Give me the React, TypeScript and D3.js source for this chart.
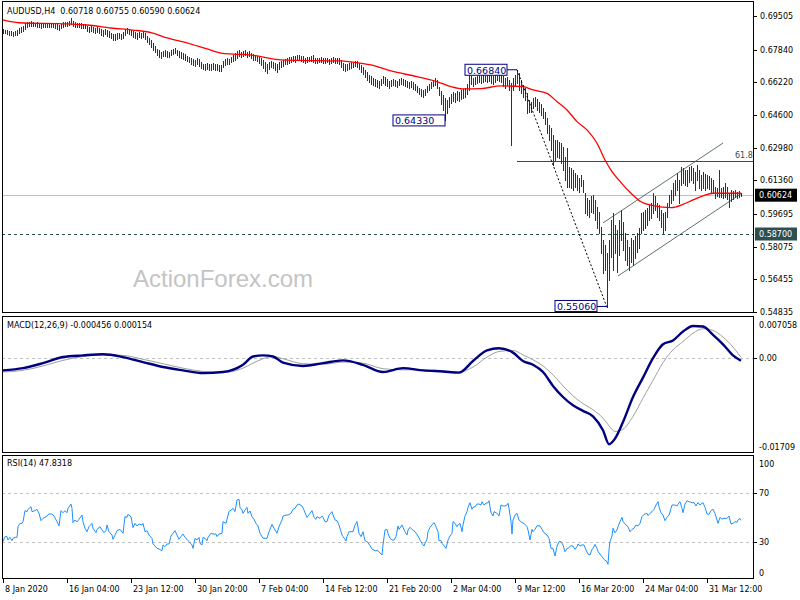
import React from 'react';
import * as d3 from 'd3';

const highs = [
0.6884,0.6881,0.6879,0.6876,0.6874,0.6871,0.6876,0.6881,0.6891,0.6896,
0.6901,0.6916,0.6921,0.6923,0.6926,0.6921,0.6918,0.6921,0.6916,0.6911,
0.6913,0.6916,0.6913,0.6911,0.6916,0.6916,0.6913,0.6911,0.6906,0.6911,
0.6921,0.6921,0.6923,0.6926,0.6941,0.6926,0.6921,0.6916,0.6918,0.6916,
0.6911,0.6911,0.6901,0.6896,0.6899,0.6896,0.6891,0.6896,0.6891,0.6886,
0.6881,0.6886,0.6881,0.6876,0.6865,0.6861,0.6861,0.6865,0.6865,0.6861,
0.6871,0.6886,0.6889,0.6886,0.6881,0.6876,0.6871,0.6865,0.6871,0.6865,
0.6871,0.6865,0.6852,0.6842,0.6832,0.6817,0.6802,0.6787,0.6782,0.6772,
0.6777,0.6782,0.6777,0.6772,0.6782,0.6787,0.6792,0.6782,0.6777,0.6772,
0.6767,0.6762,0.6752,0.6747,0.6742,0.6737,0.6733,0.6742,0.6737,0.6723,
0.6713,0.6713,0.6718,0.6713,0.6713,0.6718,0.6713,0.6713,0.6708,0.6708,
0.6728,0.6737,0.6742,0.6737,0.6747,0.6757,0.6767,0.6777,0.6782,0.6772,
0.6777,0.6782,0.6772,0.6777,0.6767,0.6762,0.6757,0.6752,0.6747,0.6742,
0.6733,0.6723,0.6713,0.6723,0.6728,0.6723,0.6718,0.6713,0.6723,0.6728,
0.6733,0.6737,0.6742,0.6747,0.6747,0.6752,0.6752,0.6755,0.6757,0.6752,
0.6750,0.6742,0.6747,0.6747,0.6752,0.6755,0.6742,0.6742,0.6742,0.6745,
0.6742,0.6740,0.6742,0.6737,0.6742,0.6745,0.6742,0.6742,0.6742,0.6733,
0.6718,0.6713,0.6713,0.6718,0.6723,0.6723,0.6728,0.6725,0.6718,0.6708,
0.6698,0.6683,0.6673,0.6658,0.6653,0.6643,0.6638,0.6633,0.6628,0.6638,
0.6653,0.6648,0.6638,0.6628,0.6633,0.6638,0.6633,0.6628,0.6638,0.6643,
0.6638,0.6633,0.6628,0.6623,0.6628,0.6623,0.6614,0.6604,0.6594,0.6589,
0.6584,0.6589,0.6604,0.6614,0.6623,0.6633,0.6643,0.6633,0.6599,0.6579,
0.6559,0.6544,0.6534,0.6549,0.6564,0.6574,0.6569,0.6579,0.6574,0.6584,
0.6589,0.6594,0.6614,0.6658,0.6653,0.6643,0.6648,0.6653,0.6658,0.6653,
0.6658,0.6663,0.6658,0.6663,0.6658,0.6653,0.6663,0.6668,0.6663,0.6673,
0.6653,0.6643,0.6648,0.6633,0.6618,0.6643,0.6658,0.6684,0.6668,0.6633,
0.6609,0.6594,0.6569,0.6534,0.6524,0.6544,0.6549,0.6539,0.6524,0.6515,
0.6495,0.6475,0.6445,0.6410,0.6396,0.6361,0.6336,0.6336,0.6326,0.6321,
0.6302,0.6252,0.6297,0.6202,0.6197,0.6187,0.6173,0.6163,0.6148,0.6163,
0.6138,0.6073,0.6049,0.6039,0.6059,0.6064,0.6039,0.6004,0.5979,0.5905,
0.5841,0.5816,0.5776,0.5841,0.5940,0.5974,0.5915,0.5890,0.5940,0.5989,
0.5930,0.5875,0.5841,0.5806,0.5851,0.5841,0.5861,0.5875,0.5900,0.5974,
0.5979,0.5989,0.5999,0.6014,0.6024,0.6073,0.6059,0.6024,0.6014,0.5989,
0.5974,0.5979,0.6024,0.6064,0.6088,0.6123,0.6138,0.6173,0.6138,0.6202,
0.6197,0.6187,0.6187,0.6202,0.6207,0.6197,0.6177,0.6212,0.6187,0.6163,
0.6177,0.6168,0.6163,0.6158,0.6148,0.6138,0.6103,0.6098,0.6187,0.6098,
0.6103,0.6123,0.6103,0.6073,0.6088,0.6083,0.6088,0.6078,0.6083,0.60755];

const lows = [
0.6865,0.6864,0.6861,0.6856,0.6854,0.6852,0.6856,0.6856,0.6865,0.6871,
0.6876,0.6886,0.6896,0.6901,0.6903,0.6899,0.6901,0.6896,0.6894,0.6891,
0.6896,0.6896,0.6894,0.6894,0.6896,0.6894,0.6891,0.6886,0.6881,0.6891,
0.6896,0.6901,0.6899,0.6906,0.6911,0.6901,0.6896,0.6896,0.6896,0.6891,
0.6891,0.6889,0.6876,0.6871,0.6876,0.6871,0.6865,0.6871,0.6865,0.6856,
0.6852,0.6861,0.6852,0.6847,0.6842,0.6834,0.6832,0.6837,0.6842,0.6837,
0.6842,0.6856,0.6865,0.6861,0.6856,0.6847,0.6842,0.6837,0.6844,0.6842,
0.6847,0.6837,0.6822,0.6812,0.6797,0.6782,0.6772,0.6757,0.6747,0.6742,
0.6752,0.6752,0.6747,0.6747,0.6757,0.6762,0.6767,0.6757,0.6747,0.6742,
0.6737,0.6733,0.6728,0.6723,0.6713,0.6708,0.6703,0.6713,0.6703,0.6693,
0.6688,0.6683,0.6688,0.6685,0.6683,0.6688,0.6685,0.6683,0.6680,0.6678,
0.6698,0.6708,0.6713,0.6713,0.6723,0.6728,0.6733,0.6742,0.6752,0.6747,
0.6752,0.6757,0.6747,0.6752,0.6742,0.6733,0.6733,0.6728,0.6718,0.6708,
0.6693,0.6678,0.6668,0.6688,0.6698,0.6693,0.6683,0.6673,0.6688,0.6698,
0.6703,0.6713,0.6713,0.6718,0.6723,0.6728,0.6723,0.6733,0.6733,0.6728,
0.6723,0.6718,0.6723,0.6725,0.6728,0.6723,0.6718,0.6720,0.6723,0.6723,
0.6718,0.6718,0.6723,0.6715,0.6718,0.6723,0.6718,0.6720,0.6713,0.6698,
0.6683,0.6678,0.6683,0.6688,0.6693,0.6698,0.6703,0.6698,0.6688,0.6673,
0.6663,0.6648,0.6633,0.6623,0.6614,0.6609,0.6604,0.6599,0.6594,0.6609,
0.6618,0.6609,0.6604,0.6594,0.6604,0.6609,0.6604,0.6599,0.6609,0.6614,
0.6609,0.6604,0.6599,0.6594,0.6599,0.6589,0.6584,0.6574,0.6564,0.6554,
0.6549,0.6559,0.6574,0.6584,0.6594,0.6604,0.6609,0.6594,0.6559,0.6515,
0.6485,0.6433,0.6470,0.6500,0.6519,0.6529,0.6524,0.6534,0.6529,0.6539,
0.6544,0.6549,0.6564,0.6584,0.6614,0.6604,0.6614,0.6618,0.6623,0.6618,
0.6623,0.6628,0.6623,0.6628,0.6618,0.6614,0.6623,0.6633,0.6628,0.6623,
0.6604,0.6594,0.6609,0.6584,0.6311,0.6584,0.6609,0.6618,0.6584,0.6569,
0.6549,0.6534,0.6470,0.6475,0.6475,0.6495,0.6505,0.6485,0.6475,0.6460,
0.6445,0.6415,0.6371,0.6336,0.6287,0.6212,0.6237,0.6252,0.6247,0.6222,
0.6187,0.6138,0.6103,0.6103,0.6098,0.6088,0.6103,0.6088,0.6078,0.6108,
0.6078,0.5974,0.5964,0.5954,0.5979,0.5974,0.5940,0.5900,0.5875,0.5776,
0.5677,0.5692,0.5506,0.5642,0.5756,0.5692,0.5776,0.5682,0.5766,0.5841,
0.5791,0.5741,0.5717,0.5692,0.5732,0.5717,0.5751,0.5781,0.5801,0.5875,
0.5890,0.5900,0.5915,0.5940,0.5950,0.5974,0.5989,0.5954,0.5940,0.5905,
0.5875,0.5890,0.5954,0.6004,0.6024,0.6039,0.6064,0.6088,0.6024,0.6113,
0.6123,0.6113,0.6108,0.6128,0.6138,0.6123,0.6088,0.6138,0.6098,0.6088,
0.6098,0.6088,0.6098,0.6093,0.6078,0.6073,0.6049,0.6059,0.6054,0.6054,
0.6049,0.6054,0.6044,0.6004,0.6034,0.6044,0.6054,0.6049,0.6054,0.60590];

// moving average (bar index, price)
const maPts: [number, number][] = [
[0,0.6931],[8,0.6917],[32,0.6911],[42,0.6906],[54,0.6891],[65,0.6881],[74,0.6868],[82,0.6842],
[92,0.6817],[102,0.6787],[109,0.6767],[115,0.6762],[124,0.6757],[139,0.6733],[157,0.6729],
[169,0.6728],[174,0.6723],[184,0.6708],[194,0.6678],[207,0.6650],[217,0.6625],[224,0.6600],
[230,0.6589],[239,0.6591],[249,0.6604],[260,0.6600],[265,0.6584],[272,0.6567],[277,0.6526],
[282,0.6485],[287,0.6427],[292,0.6386],[297,0.6320],[301,0.6237],[304,0.6187],[309,0.6125],
[314,0.6072],[319,0.6030],[325,0.6011],[334,0.6001],[340,0.6017],[345,0.6039],[350,0.6059],
[355,0.6072],[369,0.6072]];

const macdPts: [number, number][] = [
[0,-0.0022],[10,-0.0018],[20,-0.0009],[30,0.0002],[40,0.0005],[50,0.0007],[60,0.0002],[70,-0.0007],
[80,-0.0016],[90,-0.0022],[100,-0.0027],[110,-0.0025],[120,-0.0012],[125,0.0003],[130,0.0005],
[135,0.0003],[140,-0.0008],[150,-0.0014],[160,-0.0009],[170,-0.0004],[180,-0.0012],[190,-0.0025],
[200,-0.0018],[210,-0.0022],[220,-0.0024],[228,-0.0026],[235,-0.0005],[242,0.0014],[248,0.0018],
[255,0.0010],[260,-0.0005],[265,-0.0012],[270,-0.0025],[275,-0.0050],[280,-0.0070],[285,-0.0085],
[290,-0.0095],[295,-0.0105],[300,-0.0130],[303,-0.0155],[306,-0.0145],[310,-0.0115],[315,-0.0070],
[320,-0.0035],[325,0.0000],[330,0.0025],[335,0.0032],[340,0.0048],[345,0.0058],[350,0.0057],
[355,0.0042],[360,0.0025],[365,0.0005],[369,-0.000456]];

const signalPts: [number, number][] = [
[0,-0.0025],[10,-0.0022],[20,-0.0014],[30,-0.0004],[40,0.0003],[50,0.0006],[60,0.0005],[70,-0.0002],
[80,-0.0010],[90,-0.0018],[100,-0.0024],[110,-0.0026],[120,-0.0018],[125,-0.0009],[130,-0.0001],
[135,0.0003],[140,-0.0001],[150,-0.0010],[160,-0.0011],[170,-0.0007],[180,-0.0009],[190,-0.0019],
[200,-0.0021],[210,-0.0021],[220,-0.0023],[228,-0.0025],[235,-0.0016],[242,0.0002],[248,0.0012],
[255,0.0014],[260,0.0006],[265,-0.0003],[270,-0.0014],[275,-0.0030],[280,-0.0050],[285,-0.0068],
[290,-0.0082],[295,-0.0093],[300,-0.0108],[303,-0.0122],[306,-0.0132],[310,-0.0128],[315,-0.0105],
[320,-0.0072],[325,-0.0040],[330,-0.0008],[335,0.0015],[340,0.0030],[345,0.0045],[350,0.0053],
[355,0.0050],[360,0.0038],[365,0.0020],[369,0.000154]];

const rsiPts: [number, number][] = [
[0,30.5],[1,34.6],[2,34.6],[2.5,31.8],[3.5,34.0],[4.5,31.3],[5,33.2],[6,34.0],[7,34.0],[7.5,42.7],[8.5,45.4],[9.5,45.4],[10,46.8],[11,55.8],[12,55.0],[12.5,56.9],[14,59.0],[14.5,55.0],[16,55.8],[17,56.9],[18,53.6],[19,47.6],[20,49.5],[22,51.4],[23,53.1],[24.5,53.1],[25.5,51.4],[27,46.8],[28,43.3],[29,55.8],[30,54.1],[31,55.8],[32,54.1],[32.5,57.7],[34,61.2],[34.5,57.7],[35,46.0],[36,48.2],[37,46.6],[38,48.7],[39.5,52.2],[40,46.8],[41,41.4],[42,38.6],[43,42.7],[44.5,45.4],[45,41.4],[46.5,37.8],[47,40.5],[48.5,42.7],[49.5,40.0],[50.5,37.8],[51.5,39.5],[52,44.1],[53,38.6],[54.5,35.9],[55,32.4],[56,35.9],[57,39.5],[58.5,40.5],[60,37.3],[61,50.9],[62,50.3],[62.5,52.8],[64,50.9],[65,41.9],[66,45.4],[67,43.3],[68,44.9],[69.5,44.1],[70,45.4],[71,38.6],[72,39.5],[73,35.9],[74.5,33.2],[75,28.6],[76,26.9],[77,25.0],[78,24.5],[79.5,23.1],[80,27.8],[81,26.4],[82,28.6],[83,28.6],[84,35.1],[85,37.3],[86,39.5],[87,35.9],[88,32.4],[89,34.6],[90,36.7],[91,34.0],[92,32.4],[93,30.5],[94.5,27.8],[95,25.0],[96,33.2],[97,31.8],[98,34.0],[98.5,29.1],[99.5,27.8],[100,34.0],[101,33.2],[102,31.3],[102.5,34.0],[104,37.3],[105,36.7],[106.5,36.7],[107,34.6],[108,36.7],[109.5,37.3],[110,46.8],[111.5,45.4],[112,48.7],[113,55.0],[114.5,56.9],[115,57.7],[116,55.0],[117,64.5],[118,65.0],[118.5,58.5],[119.5,56.3],[120,53.6],[121,56.3],[122,58.5],[122.5,53.6],[123.5,55.5],[124.5,50.9],[125.5,48.7],[126.5,45.4],[127.5,43.3],[128.5,37.3],[130,33.2],[131,33.2],[132,33.2],[133,38.6],[134.5,44.6],[135.5,41.4],[136.5,38.6],[137,37.3],[138,42.7],[139.5,48.2],[140,51.4],[141.5,52.2],[142.5,52.2],[144,53.6],[145,56.9],[146,57.7],[147,60.4],[148,61.2],[149.5,59.6],[150.5,56.3],[151.5,52.2],[152,50.3],[153.5,53.6],[154.5,55.8],[155.5,50.3],[156.5,48.7],[157,50.9],[158.5,49.5],[159.5,51.4],[160,50.3],[161,46.8],[162,46.8],[163,52.2],[164.5,55.0],[165,52.2],[166,48.2],[167,47.6],[168,44.1],[169.5,35.9],[170,34.6],[171.5,31.0],[172,34.6],[173,38.6],[174.5,38.6],[175,38.6],[176,44.1],[177,46.8],[178,37.3],[179,34.6],[180,38.6],[180.5,34.6],[181,31.3],[182,30.5],[182.5,29.7],[183.5,27.2],[184.5,24.5],[186,23.1],[187.5,23.1],[189.5,19.6],[190,27.8],[191,40.0],[192,40.5],[192.5,37.3],[193.5,33.2],[194.5,31.8],[195.5,31.8],[196.5,34.6],[197.5,43.3],[198,40.5],[199.5,44.1],[200,42.2],[201,38.6],[202,35.9],[202.5,40.0],[203.5,42.2],[204.5,40.5],[206,38.6],[207.5,35.1],[208.5,31.8],[209.5,29.1],[210.5,26.9],[211,29.1],[212,32.4],[212.5,38.6],[213.5,42.2],[214.5,44.1],[215.5,46.0],[216.5,42.7],[217.5,38.6],[218,31.3],[219,31.3],[219.5,29.1],[220.5,27.2],[221.5,25.0],[222.5,31.8],[223.5,35.1],[224.5,37.3],[225,46.8],[226,45.4],[227,42.7],[227.5,44.1],[228.5,45.4],[229.5,38.6],[230,44.1],[231,51.4],[232,55.0],[232.5,58.5],[233.5,62.3],[234.5,56.9],[235,58.5],[236,59.0],[237,61.2],[238,61.2],[239,60.4],[239.5,63.1],[240.5,60.4],[241.5,61.8],[242.5,62.3],[243,63.9],[244,54.1],[245,51.4],[245.5,55.0],[246.5,54.1],[247.5,52.8],[248,51.4],[249,60.4],[250,59.6],[251,59.6],[252,60.4],[252.5,61.8],[253,57.7],[254,46.8],[254.5,36.7],[255,48.2],[256,52.2],[257,53.6],[258,48.2],[259.5,46.0],[260.5,45.4],[262,42.7],[262.5,40.0],[263.5,31.8],[264.5,40.5],[265,38.6],[266,40.5],[267,43.5],[268.5,43.3],[269.5,40.5],[270.5,37.8],[272,35.9],[273,33.2],[274,25.0],[275,25.0],[276,18.8],[277,26.9],[278,30.5],[279,30.5],[280,27.8],[281,22.3],[282,25.0],[282.5,25.0],[284,27.2],[285,26.9],[286,24.2],[287,26.4],[287.5,28.6],[288.5,26.9],[289.5,27.8],[290.5,27.8],[291.5,23.7],[292.5,20.4],[293.5,19.6],[294.5,24.2],[295,25.0],[296,28.3],[297,25.0],[297.5,22.3],[298.5,20.4],[299.5,18.2],[300.5,16.1],[302,14.1],[302.5,12.0],[303,23.7],[303.5,30.5],[304.5,35.1],[305,41.4],[306,37.8],[307,40.0],[307.5,42.7],[308.5,46.8],[309.5,50.3],[310,46.8],[311.5,44.1],[312.5,42.7],[313.5,38.6],[314.5,40.5],[315.5,41.4],[316.5,44.1],[317.5,43.3],[318.5,45.4],[319.5,50.9],[320.5,52.8],[322,53.6],[322.5,51.7],[323.5,53.6],[324.5,55.0],[325.5,56.9],[326.5,60.4],[327.5,63.1],[328,59.0],[329,54.1],[330,52.2],[331,47.6],[332,50.3],[333,52.2],[334,57.7],[334.5,60.4],[336,60.4],[337,59.6],[338,62.3],[338.5,63.1],[339.5,57.7],[340,54.1],[341,61.2],[342,63.9],[343,63.1],[344.5,62.3],[345.5,62.3],[346.5,59.6],[347.5,62.3],[348.5,60.4],[349.5,61.8],[350,62.3],[351,58.5],[352,53.1],[353,52.8],[354,55.8],[355,56.9],[356,53.6],[357,48.2],[357.5,45.4],[358.5,50.3],[359.5,48.7],[360,49.5],[362,49.5],[363,51.4],[364,44.9],[365,45.4],[366,46.8],[367,46.3],[367.5,48.2],[368.5,49.5],[369,47.8]];

const priceTicks = [0.69505,0.67840,0.66220,0.64600,0.62980,0.61360,0.59695,0.58075,0.56455,0.54835];
const dateLabels = ['8 Jan 2020','16 Jan 04:00','23 Jan 12:00','30 Jan 20:00','7 Feb 04:00','14 Feb 12:00','21 Feb 20:00','2 Mar 04:00','9 Mar 12:00','16 Mar 20:00','24 Mar 04:00','31 Mar 12:00'];
const dateBars = [0,32,64,96,128,160,192,224,256,288,320,352];

const lastPrice = 0.60624;
const supportLevel = 0.587;
const fibLevel = 0.6234;
const swingHigh: [number, number] = [257, 0.6684];
const swingLow: [number, number] = [302, 0.5506];
const prevLow: [number, number] = [221, 0.6433];
const channelUpper: [number, number][] = [[300, 0.5925], [360, 0.6321]];
const channelLower: [number, number][] = [[307.5, 0.5662], [369.5, 0.6073]];

const FONT = "'DejaVu Sans', Tahoma, sans-serif";

export default function App() {
  const L = 2, R = 754;
  const x = d3.scaleLinear().domain([0, 369]).range([3, 741]);
  const yP = d3.scaleLinear().domain([0.54835, 0.69505]).range([312, 16]);
  const yM = d3.scaleLinear().domain([-0.01709, 0.007058]).range([453, 319]);
  const yR = d3.scaleLinear().domain([0, 100]).range([579, 456.5]);

  const maLine = d3.line<[number, number]>().x(d => x(d[0])).y(d => yP(d[1])).curve(d3.curveMonotoneX);
  const mLine = d3.line<[number, number]>().x(d => x(d[0])).y(d => yM(d[1])).curve(d3.curveMonotoneX);
  const rLine = d3.line<[number, number]>().x(d => x(d[0])).y(d => yR(d[1]));
  const pLine = d3.line<[number, number]>().x(d => x(d[0])).y(d => yP(d[1]));

  const label = (txt: string, right: number, cy: number, w: number) => (
    <g>
      <rect x={right - w} y={cy - 5.5} width={w} height={11} fill="#fff" stroke="#000080" strokeWidth={1} />
      <text x={right - w + 2} y={cy + 3.8} fontSize={9.5} fill="#000080" fontFamily={FONT}>{txt}</text>
    </g>
  );

  return (
    <svg width={800} height={600} style={{ position: 'absolute', left: 0, top: 0, background: '#fff' }} fontFamily={FONT}>
      <rect x={0} y={0} width={800} height={600} fill="#fff" />
      {/* watermark */}
      <text x={133} y={287} fontSize={24} fill="#c4c4c4" fontFamily="'Liberation Sans', Arial, sans-serif">ActionForex.com</text>

      {/* level lines */}
      <line x1={L} x2={R} y1={Math.round(yP(lastPrice)) + 0.5} y2={Math.round(yP(lastPrice)) + 0.5} stroke="#c0c0c0" strokeWidth={1} />
      <line x1={L} x2={R} y1={Math.round(yP(supportLevel)) + 0.5} y2={Math.round(yP(supportLevel)) + 0.5} stroke="#2f4f4f" strokeDasharray="3,3" />
      <line x1={x(swingHigh[0])} x2={R} y1={Math.round(yP(fibLevel)) + 0.5} y2={Math.round(yP(fibLevel)) + 0.5} stroke="#2f4f4f" />
      <text x={735} y={yP(fibLevel) - 3} fontSize={8} fill="#2f4f4f">61.8</text>

      {/* bars */}
      <g shapeRendering="crispEdges">
        {highs.map((h, i) => (
          <rect key={i} x={x(i)} y={Math.round(yP(h))} width={1} height={Math.max(1, Math.round(yP(lows[i])) - Math.round(yP(h)) + 1)} fill="#0f3a58" />
        ))}
      </g>

      {/* MA */}
      <path d={maLine(maPts) || ''} fill="none" stroke="#ff0000" strokeWidth={1.3} />

      {/* channel + swing */}
      <path d={pLine(channelUpper) || ''} stroke="#2f4f4f" strokeWidth={0.8} fill="none" />
      <path d={pLine(channelLower) || ''} stroke="#2f4f4f" strokeWidth={0.8} fill="none" />
      <path d={pLine([swingHigh, swingLow]) || ''} stroke="#000" strokeDasharray="2,2" strokeWidth={1} fill="none" />

      {/* annotation labels */}
      <line x1={x(swingHigh[0]) - 10} x2={x(swingHigh[0])} y1={yP(swingHigh[1])} y2={yP(swingHigh[1])} stroke="#000080" />
      {label('0.66840', x(swingHigh[0]) - 10, yP(swingHigh[1]), 42)}
      {label('0.64330', x(prevLow[0]), yP(prevLow[1]), 52)}
      <line x1={x(swingLow[0]) - 10} x2={x(swingLow[0])} y1={yP(swingLow[1]) - 1} y2={yP(swingLow[1]) - 1} stroke="#000080" />
      {label('0.55060', x(swingLow[0]) - 10, yP(swingLow[1]) - 1.5, 42)}

      {/* title */}
      <text x={7} y={14} fontSize={8} fill="#000" style={{ whiteSpace: 'pre' }}>{'AUDUSD,H4  0.60718 0.60755 0.60590 0.60624'}</text>

      {/* price axis */}
      {priceTicks.map((p, k) => (
        <g key={k}>
          <line x1={R} x2={R + 3} y1={Math.round(yP(p)) + 0.5} y2={Math.round(yP(p)) + 0.5} stroke="#000" />
          <text x={760} y={yP(p) + 3} fontSize={8} fill="#000">{p.toFixed(5)}</text>
        </g>
      ))}
      <rect x={755} y={yP(lastPrice) - 6.5} width={42} height={13} fill="#000" />
      <text x={759} y={yP(lastPrice) + 3} fontSize={8} fill="#fff">{lastPrice.toFixed(5)}</text>
      <rect x={755} y={yP(supportLevel) - 6.5} width={42} height={13} fill="#2f4f4f" />
      <text x={759} y={yP(supportLevel) + 3} fontSize={8} fill="#fff">{supportLevel.toFixed(5)}</text>

      {/* MACD panel */}
      <line x1={L} x2={R} y1={Math.round(yM(0)) + 0.5} y2={Math.round(yM(0)) + 0.5} stroke="#c0c0c0" strokeDasharray="3,3" />
      <path d={mLine(signalPts) || ''} fill="none" stroke="#a0a0a0" strokeWidth={1} />
      <path d={mLine(macdPts) || ''} fill="none" stroke="#000080" strokeWidth={2.4} strokeLinejoin="round" />
      <text x={7} y={328} fontSize={8} fill="#000">MACD(12,26,9) -0.000456 0.000154</text>
      <text x={759} y={yM(0.007058) + 9} fontSize={8}>0.007058</text>
      <line x1={R} x2={R + 3} y1={Math.round(yM(0)) + 0.5} y2={Math.round(yM(0)) + 0.5} stroke="#000" />
      <text x={759} y={yM(0) + 3} fontSize={8}>0.00</text>
      <text x={759} y={yM(-0.01709) - 3} fontSize={8}>-0.01709</text>

      {/* RSI panel */}
      {[70, 30].map(v => (
        <g key={v}>
          <line x1={L} x2={R} y1={Math.round(yR(v)) + 0.5} y2={Math.round(yR(v)) + 0.5} stroke="#c0c0c0" strokeDasharray="3,3" />
          <line x1={R} x2={R + 3} y1={Math.round(yR(v)) + 0.5} y2={Math.round(yR(v)) + 0.5} stroke="#000" />
          <text x={759} y={yR(v) + 3} fontSize={8}>{v}</text>
        </g>
      ))}
      <text x={759} y={yR(100) + 10} fontSize={8}>100</text>
      <text x={759} y={yR(0) - 3} fontSize={8}>0</text>
      <path d={rLine(rsiPts) || ''} fill="none" stroke="#1e90ff" strokeWidth={1} />
      <text x={7} y={466} fontSize={8} fill="#000">RSI(14) 47.8318</text>

      {/* frames */}
      <rect x={L + 0.5} y={1.5} width={R - L - 1} height={311} fill="none" stroke="#000" />
      <rect x={L + 0.5} y={316.5} width={R - L - 1} height={136} fill="none" stroke="#000" />
      <rect x={L + 0.5} y={455.5} width={R - L - 1} height={123} fill="none" stroke="#000" />

      {/* date axis */}
      {dateBars.map((b, k) => (
        <g key={k}>
          <line x1={x(b) + 0.5} x2={x(b) + 0.5} y1={579} y2={583} stroke="#000" />
          <text x={x(b) + 2} y={592} fontSize={8} fill="#000">{dateLabels[k]}</text>
        </g>
      ))}
    </svg>
  );
}
